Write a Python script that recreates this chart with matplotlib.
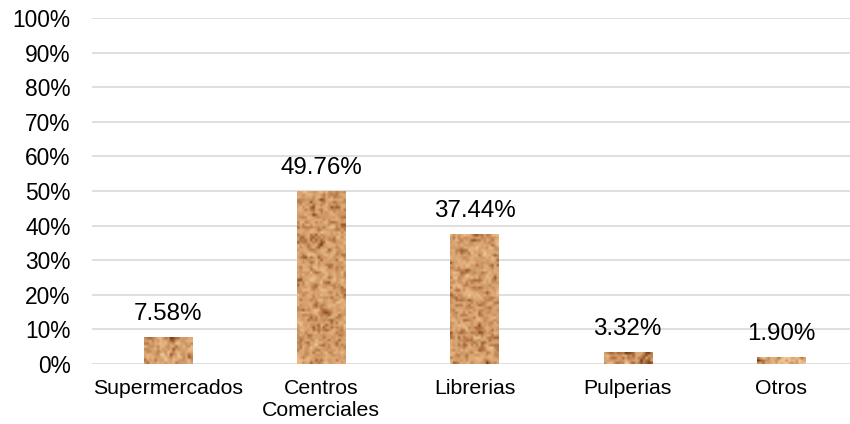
import numpy as np
import matplotlib
matplotlib.use("Agg")
import matplotlib.pyplot as plt
from matplotlib.colors import LinearSegmentedColormap
from matplotlib.ticker import FuncFormatter

categorias = ["Supermercados", "Centros\nComerciales", "Librerias", "Pulperias", "Otros"]
porcentajes = [7.58, 49.76, 37.44, 3.32, 1.90]
etiquetas = ["7.58%", "49.76%", "37.44%", "3.32%", "1.90%"]

plt.rcParams["font.family"] = ["Liberation Sans", "DejaVu Sans"]

fig = plt.figure(figsize=(8.5, 4.24), dpi=100)
# el área de datos sigue un poco más allá del borde derecho
ax = fig.add_axes([91.5 / 850, 60 / 424, 766 / 850, 346 / 424])

x = np.arange(len(categorias))
ancho = 0.315
barras = ax.bar(x, porcentajes, width=ancho, color="#c98f5c", zorder=2)

# textura tipo corcho para las barras
corcho = LinearSegmentedColormap.from_list(
    "corcho", ["#6e3614", "#a8683a", "#cf9866", "#e2b07c", "#f0cc9c"])
rng = np.random.default_rng(7)


def textura(filas, cols):
    ruido = rng.random((filas + 2, cols + 2))
    suave = (ruido[:-2, 1:-1] + ruido[2:, 1:-1] + ruido[1:-1, :-2]
             + ruido[1:-1, 2:] + 2 * ruido[1:-1, 1:-1]) / 6
    fino = rng.random((filas, cols))
    t = 0.65 * suave + 0.35 * fino
    t = (t - t.min()) / (t.max() - t.min())
    return t ** 0.8


for b, v in zip(barras, porcentajes):
    b.set_facecolor("none")
    filas = max(2, int(round(v / 100 * 346 / 2.5)))
    ax.imshow(textura(filas, 19), cmap=corcho, aspect="auto",
              interpolation="bilinear", zorder=2.5,
              extent=(b.get_x(), b.get_x() + b.get_width(), 0, v))

for xi, v, t in zip(x, porcentajes, etiquetas):
    ax.annotate(t, (xi, v), xytext=(0, 9), textcoords="offset points",
                ha="center", va="bottom", fontsize=17.4, color="#000000")

ax.set_xlim(-0.5, len(categorias) - 0.5)
ax.set_ylim(0, 100)
ax.set_yticks(np.arange(0, 101, 10))
ax.yaxis.set_major_formatter(FuncFormatter(lambda v, p: f"{v:.0f}%"))
ax.set_xticks(x)
ax.set_xticklabels(categorias, fontsize=15.3)
ax.tick_params(axis="both", length=0, colors="#000000")
ax.tick_params(axis="x", pad=11)
ax.tick_params(axis="y", pad=15, labelsize=16.4)
ax.grid(axis="y", color="#d9d9d9", linewidth=1.2, zorder=0)
ax.set_axisbelow(True)
for s in ax.spines.values():
    s.set_visible(False)

fig.savefig("out.png", dpi=100)
